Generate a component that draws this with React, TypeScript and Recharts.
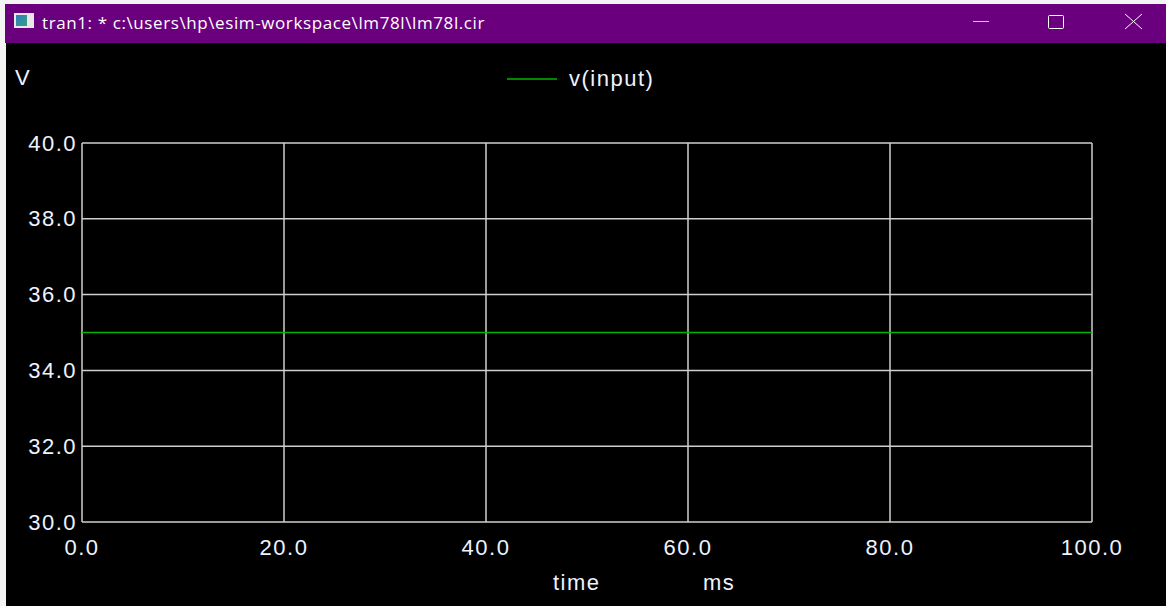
import React from 'react';
import {
  LineChart,
  Line,
  XAxis,
  YAxis,
  CartesianGrid,
  Legend,
} from 'recharts';

const timeMs = [0, 20, 40, 60, 80, 100];
const vInput = [35.0, 35.0, 35.0, 35.0, 35.0, 35.0];
const xTicks = [0, 20, 40, 60, 80, 100];
const yTicks = [30, 32, 34, 36, 38, 40];

const title = 'tran1: * c:\\users\\hp\\esim-workspace\\lm78l\\lm78l.cir';
const seriesName = 'v(input)';

const data = timeMs.map((t, i) => ({ time: t, v: vInput[i] }));

const textColor = '#eef3ff';
const font = '"Liberation Sans", Arial, sans-serif';
const labelStyle = { fontFamily: font, fontSize: 22, letterSpacing: 1.5, fill: textColor };

function XTick(props: any) {
  const { x, y, payload } = props;
  return (
    <text x={x} y={y + 25} textAnchor="middle" dominantBaseline="central" style={labelStyle}>
      {payload.value.toFixed(1)}
    </text>
  );
}

function YTick(props: any) {
  const { x, y, payload } = props;
  return (
    <text x={x - 5} y={y} textAnchor="end" dominantBaseline="central" style={labelStyle}>
      {payload.value.toFixed(1)}
    </text>
  );
}

function LegendContent() {
  return (
    <div style={{ display: 'flex', alignItems: 'center', height: 24 }}>
      <svg width={50} height={4}>
        <line x1={0} y1={2} x2={50} y2={2} stroke="#00b400" strokeWidth={1.5} />
      </svg>
      <span style={{ marginLeft: 12, fontFamily: font, fontSize: 22, letterSpacing: 1.5, color: textColor }}>
        {seriesName}
      </span>
    </div>
  );
}

export default function App() {
  return (
    <div style={{ position: 'fixed', left: 0, top: 0, width: 1166, height: 606, background: '#f4f4f4', overflow: 'hidden' }}>
      {/* title bar */}
      <div style={{ position: 'absolute', left: 5, top: 4, width: 1161, height: 39, background: '#6a007e' }}>
        <div style={{ position: 'absolute', left: 9, top: 9, width: 20, height: 15, background: '#e8e8e8' }}>
          <div style={{ position: 'absolute', left: 2, top: 2, width: 11, height: 11, background: 'linear-gradient(135deg, #2a7fc0, #3aa07a)' }} />
        </div>
        <div style={{ position: 'absolute', left: 37, top: 0, height: 39, lineHeight: '37px', fontFamily: '"Open Sans", "Noto Sans", sans-serif', fontSize: 17, letterSpacing: 0.6, color: '#ffffff' }}>
          {title}
        </div>
        <svg style={{ position: 'absolute', left: 0, top: 0 }} width={1161} height={39}>
          <line x1={968} y1={17.5} x2={984} y2={17.5} stroke="#d8c0e0" strokeWidth={1} />
          <rect x={1043.5} y={11.5} width={15} height={13} fill="none" stroke="#ffffff" strokeWidth={1} rx={1} />
          <line x1={1120} y1={10} x2={1137} y2={25} stroke="#ffffff" strokeWidth={1} />
          <line x1={1137} y1={10} x2={1120} y2={25} stroke="#ffffff" strokeWidth={1} />
        </svg>
      </div>
      {/* plot window */}
      <div style={{ position: 'absolute', left: 6, top: 43, width: 1160, height: 563, background: '#000000' }}>
        <div style={{ position: 'absolute', left: 9, top: 22, fontFamily: font, fontSize: 22, color: textColor }}>V</div>
        <div style={{ position: 'absolute', left: 547, top: 527, fontFamily: font, fontSize: 22, letterSpacing: 1.5, color: textColor }}>time</div>
        <div style={{ position: 'absolute', left: 697, top: 527, fontFamily: font, fontSize: 22, letterSpacing: 1.5, color: textColor }}>ms</div>
        <LineChart
          width={1160}
          height={563}
          data={data}
          margin={{ top: 76, right: 74, left: 0, bottom: 44 }}
        >
          <CartesianGrid stroke="#cfcfcf" strokeWidth={1.5} />
          <XAxis
            dataKey="time"
            type="number"
            domain={[0, 100]}
            ticks={xTicks}
            axisLine={false}
            tickLine={false}
            tickSize={0}
            tickMargin={0}
            height={40}
            tick={<XTick />}
            interval={0}
          />
          <YAxis
            type="number"
            domain={[30, 40]}
            ticks={yTicks}
            axisLine={false}
            tickLine={false}
            tickSize={0}
            tickMargin={0}
            width={76}
            tick={<YTick />}
            interval={0}
          />
          <Legend
            verticalAlign="top"
            content={<LegendContent />}
            wrapperStyle={{ position: 'absolute', left: 501, top: 24, width: 220, height: 24 }}
          />
          <Line
            type="linear"
            dataKey="v"
            name={seriesName}
            stroke="#00b400"
            strokeWidth={1.5}
            dot={false}
            isAnimationActive={false}
          />
        </LineChart>
      </div>
    </div>
  );
}
